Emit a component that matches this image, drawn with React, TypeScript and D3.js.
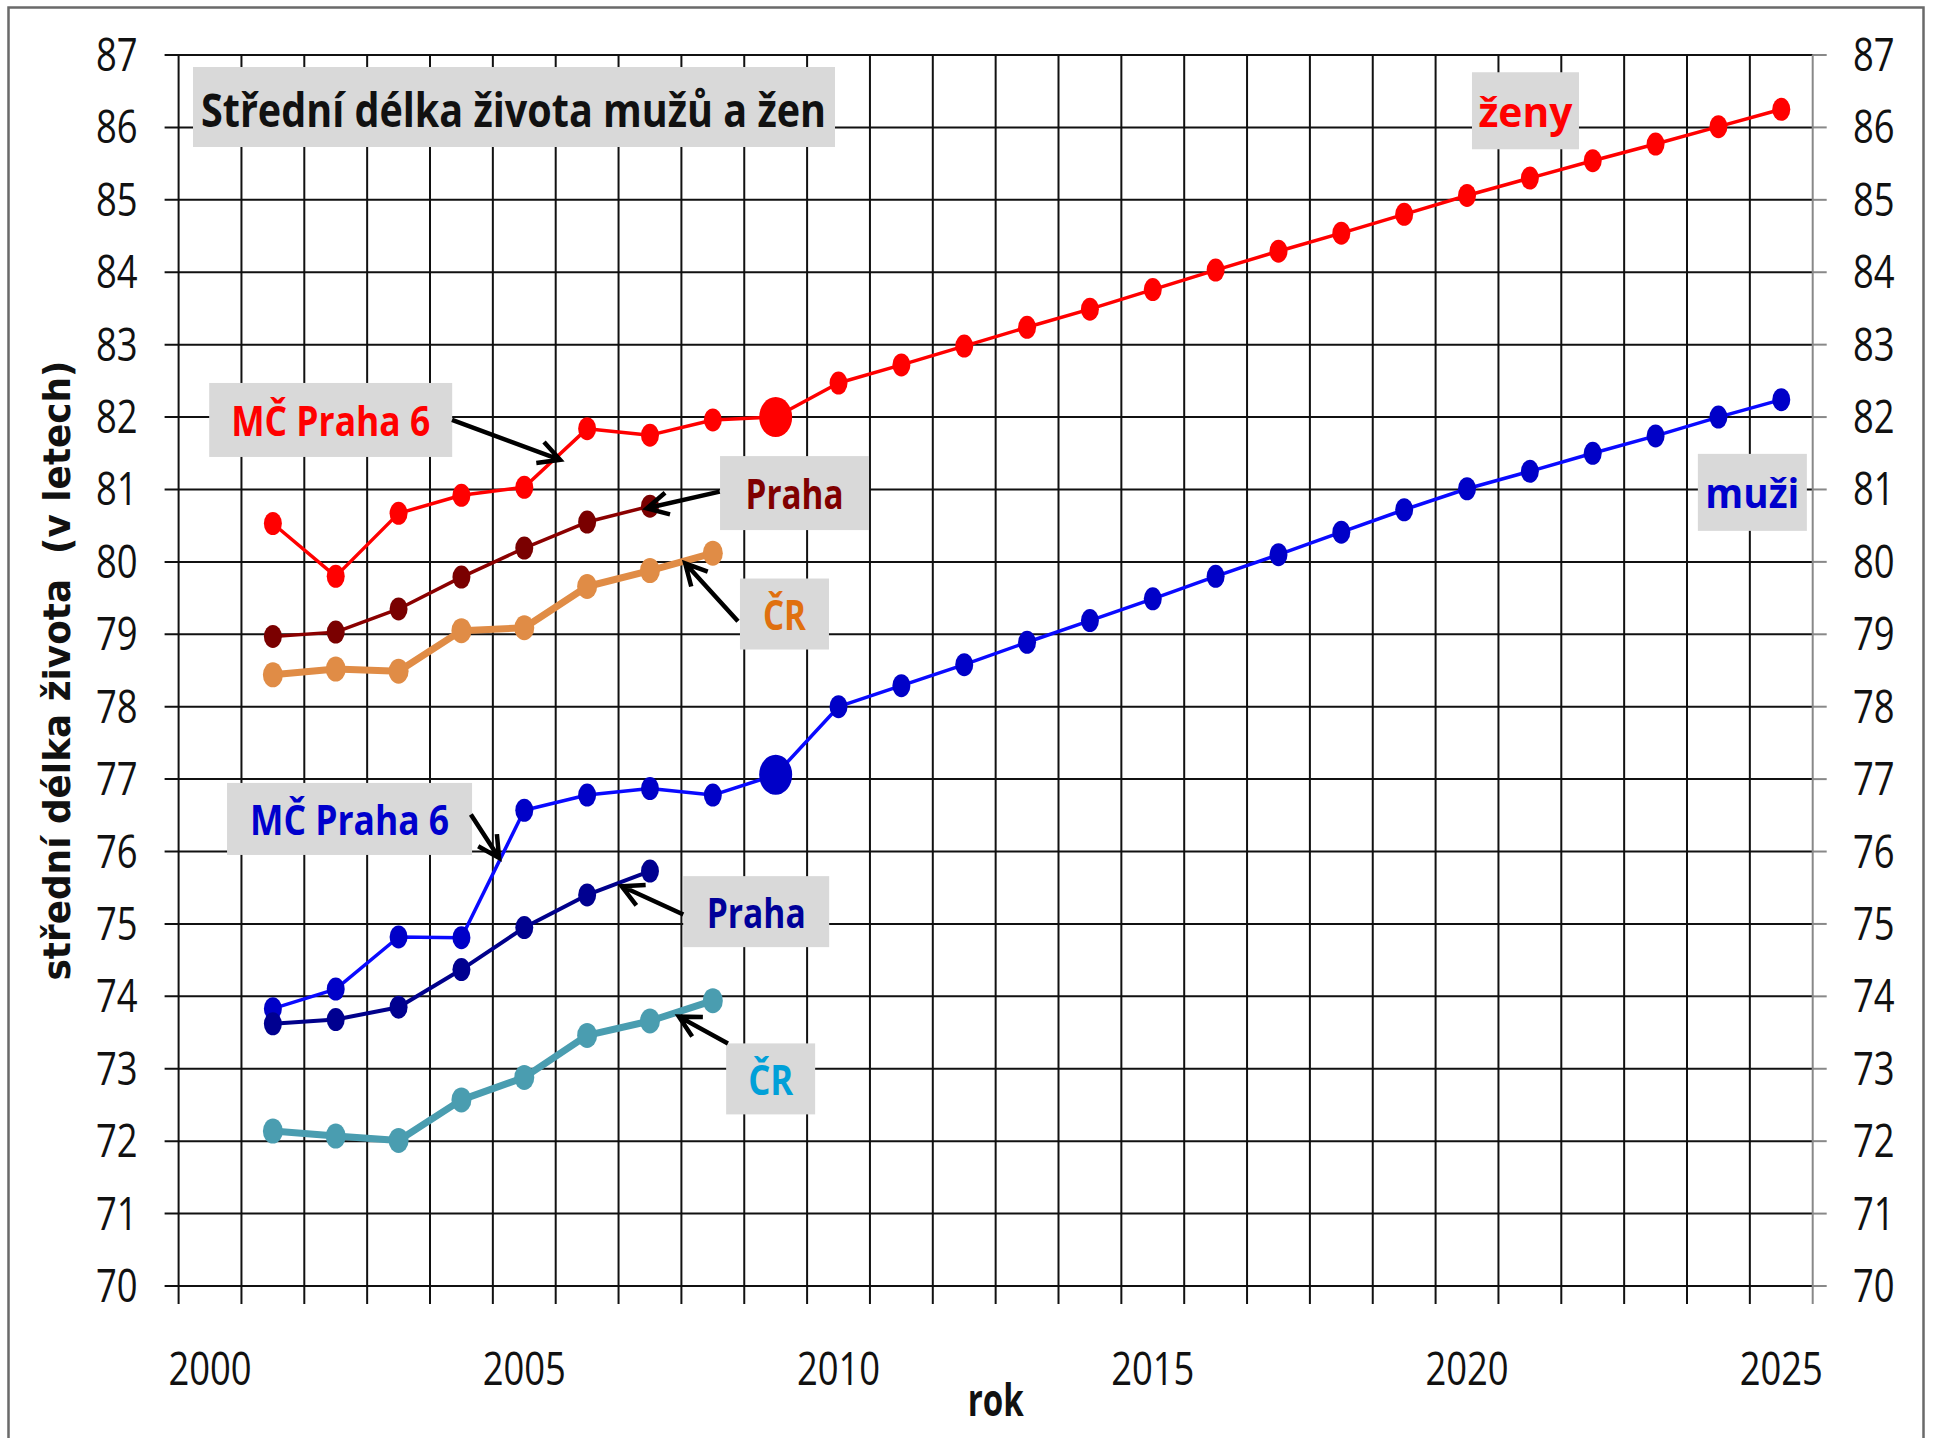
import React from "react";
import * as d3 from "d3";

// categories on the x axis (one cell per year)
const years = [
  2000, 2001, 2002, 2003, 2004, 2005, 2006, 2007, 2008, 2009, 2010, 2011, 2012,
  2013, 2014, 2015, 2016, 2017, 2018, 2019, 2020, 2021, 2022, 2023, 2024, 2025,
];
const yearLabels = [2000, 2005, 2010, 2015, 2020, 2025];

// ženy – MČ Praha 6 (2001–2025)
const womenP6 = [
  80.53, 79.8, 80.67, 80.92, 81.03, 81.84, 81.75, 81.96, 82.0, 82.47, 82.72,
  82.98, 83.24, 83.49, 83.76, 84.03, 84.29, 84.54, 84.8, 85.06, 85.3, 85.54,
  85.77, 86.01, 86.25,
];
// ženy – Praha (2001–2007)
const womenPraha = [78.97, 79.03, 79.35, 79.79, 80.19, 80.55, 80.77];
// ženy – ČR (2001–2008)
const womenCR = [78.44, 78.52, 78.49, 79.05, 79.09, 79.66, 79.88, 80.12];
// muži – MČ Praha 6 (2001–2025)
const menP6 = [
  73.83, 74.1, 74.82, 74.81, 76.57, 76.78, 76.87, 76.78, 77.06, 78.0, 78.29,
  78.58, 78.89, 79.19, 79.49, 79.8, 80.1, 80.41, 80.72, 81.01, 81.25, 81.5,
  81.74, 82.0, 82.24,
];
// muži – Praha (2001–2007)
const menPraha = [73.62, 73.68, 73.85, 74.37, 74.95, 75.4, 75.73];
// muži – ČR (2001–2008)
const menCR = [72.14, 72.07, 72.01, 72.57, 72.88, 73.46, 73.66, 73.94];

const firstYear = 2001;
const highlightYear = 2009;

const W = 1933;
const H = 1438;
const X0 = 178.6;
const X1 = 1812.7;
const Y0 = 55;
const Y1 = 1286;

const NARROW = "'Liberation Sans Narrow', 'Arial Narrow', 'Open Sans', sans-serif";
const WIDE = "'DejaVu Sans', Verdana, sans-serif";
const DIGIT_W = 20.8; // width of one tick-label digit, px

const series = [
  { values: womenP6, line: "#ff0000", marker: "#ff0000", width: 3.5, rx: 9, ry: 11.5, big: true },
  { values: womenPraha, line: "#8b0000", marker: "#7a0000", width: 3.5, rx: 9, ry: 11.5, big: false },
  { values: womenCR, line: "#e08c46", marker: "#e08c46", width: 7, rx: 10, ry: 12.5, big: false },
  { values: menP6, line: "#0a0aff", marker: "#0000c8", width: 3.5, rx: 9, ry: 11.5, big: true },
  { values: menPraha, line: "#00008b", marker: "#000090", width: 4, rx: 9, ry: 11.5, big: false },
  { values: menCR, line: "#4a9db0", marker: "#4a9db0", width: 7, rx: 10, ry: 12.5, big: false },
];

// text boxes (centre in data units, size in px) with arrows [tail, tip] in data units
const annotations = [
  { text: "MČ Praha 6", color: "#ff0000", cx: 2001.92, cy: 81.96, w: 243, h: 74, tw: 199, arrow: [[2003.85, 81.96], [2005.57, 81.41]] },
  { text: "Praha", color: "#800000", cx: 2009.3, cy: 80.95, w: 149, h: 74, tw: 98, arrow: [[2008.11, 80.97], [2006.95, 80.74]] },
  { text: "ČR", color: "#e0700f", cx: 2009.14, cy: 79.28, w: 89, h: 71, tw: 43, arrow: [[2008.4, 79.18], [2007.56, 79.98]] },
  { text: "MČ Praha 6", color: "#0000cc", cx: 2002.22, cy: 76.45, w: 245, h: 72, tw: 199, arrow: [[2004.15, 76.51], [2004.6, 75.91]] },
  { text: "Praha", color: "#000099", cx: 2008.69, cy: 75.17, w: 146, h: 71, tw: 99, arrow: [[2007.53, 75.13], [2006.55, 75.52]] },
  { text: "ČR", color: "#00a0d8", cx: 2008.92, cy: 72.86, w: 89, h: 71, tw: 45, arrow: [[2008.24, 73.35], [2007.46, 73.72]] },
  { text: "ženy", color: "#ff0000", cx: 2020.93, cy: 86.23, w: 107, h: 77, tw: 94, arrow: null },
  { text: "muži", color: "#0000cc", cx: 2024.54, cy: 80.96, w: 109, h: 77, tw: 94, arrow: null },
];

function arrowPath(tail: number[], tip: number[]) {
  const dx = tip[0] - tail[0];
  const dy = tip[1] - tail[1];
  const a = Math.atan2(dy, dx);
  const len = 24;
  const spread = Math.PI / 6.5;
  const h1 = [tip[0] - len * Math.cos(a - spread), tip[1] - len * Math.sin(a - spread)];
  const h2 = [tip[0] - len * Math.cos(a + spread), tip[1] - len * Math.sin(a + spread)];
  return `M${tail[0]},${tail[1]}L${tip[0]},${tip[1]}M${h1[0]},${h1[1]}L${tip[0]},${tip[1]}L${h2[0]},${h2[1]}`;
}

export default function App() {
  const x = d3.scaleBand<number>().domain(years).range([X0, X1]).padding(0);
  const bw = x.bandwidth();
  const xc = (yr: number) => (x(yr) as number) + bw / 2;
  const xLin = d3.scaleLinear().domain([1999.5, 2025.5]).range([X0, X1]);
  const y = d3.scaleLinear().domain([70, 87]).range([Y1, Y0]);
  const yTicks = y.ticks(17);

  const line = d3
    .line<number>()
    .x((_, i) => xc(firstYear + i))
    .y((v) => y(v));

  const edges = years.map((yr) => x(yr) as number).concat([X1]);

  return (
    <svg
      width={W}
      height={H}
      style={{ position: "absolute", left: 0, top: 0, background: "#fff" }}
    >
      <rect x={0} y={0} width={W} height={H} fill="#fff" />
      <rect x={8.5} y={7.5} width={1915} height={1445} fill="none" stroke="#6a6a6a" strokeWidth={2.5} />

      {/* horizontal gridlines */}
      {yTicks.map((t) => (
        <g key={"h" + t}>
          <line x1={X0 - 14} x2={X1} y1={y(t)} y2={y(t)} stroke="#111" strokeWidth={2} />
          <line x1={X1} x2={X1 + 14} y1={y(t)} y2={y(t)} stroke="#888" strokeWidth={2} />
        </g>
      ))}
      {/* vertical gridlines / category ticks */}
      {edges.map((ex, i) => (
        <line
          key={"v" + i}
          x1={ex}
          x2={ex}
          y1={Y0}
          y2={Y1 + 18}
          stroke={i === edges.length - 1 ? "#888" : "#111"}
          strokeWidth={2}
        />
      ))}

      {/* y tick labels left and right */}
      {yTicks.map((t) => (
        <g key={"l" + t} fontFamily={NARROW} fontSize={45} fill="#111">
          <text x={137.5} y={y(t) + 16} textAnchor="end" textLength={String(t).length * DIGIT_W} lengthAdjust="spacingAndGlyphs">{t}</text>
          <text x={1853} y={y(t) + 16} textAnchor="start" textLength={String(t).length * DIGIT_W} lengthAdjust="spacingAndGlyphs">{t}</text>
        </g>
      ))}
      {/* x labels */}
      {yearLabels.map((yr) => (
        <text
          key={"x" + yr}
          x={xc(yr)}
          y={1385}
          textAnchor="middle"
          fontFamily={NARROW}
          fontSize={45}
          fill="#111"
          textLength={String(yr).length * DIGIT_W}
          lengthAdjust="spacingAndGlyphs"
        >
          {yr}
        </text>
      ))}
      <text
        x={(X0 + X1) / 2}
        y={1416}
        textAnchor="middle"
        fontFamily={NARROW}
        fontWeight="bold"
        fontSize={44}
        fill="#111"
        textLength={56}
        lengthAdjust="spacingAndGlyphs"
      >
        rok
      </text>
      <text
        transform={`translate(70, ${(Y0 + Y1) / 2}) rotate(-90)`}
        textAnchor="middle"
        fontFamily={WIDE}
        fontWeight="bold"
        fontSize={38}
        fill="#111"
        textLength={620}
        lengthAdjust="spacingAndGlyphs"
        style={{ whiteSpace: "pre" }}
      >
        {"střední délka života  (v letech)"}
      </text>

      {/* title */}
      <rect x={193} y={67} width={642} height={80} fill="#d9d9d9" />
      <text x={201} y={127} fontFamily={NARROW} fontWeight="bold" fontSize={47} fill="#111" textLength={625} lengthAdjust="spacingAndGlyphs">
        Střední délka života mužů a žen
      </text>

      {/* series */}
      {series.map((s, si) => (
        <g key={"s" + si}>
          <path d={line(s.values) || ""} fill="none" stroke={s.line} strokeWidth={s.width} strokeLinejoin="round" />
          {s.values.map((v, i) => {
            const yr = firstYear + i;
            const big = s.big && yr === highlightYear;
            return (
              <ellipse
                key={i}
                cx={xc(yr)}
                cy={y(v)}
                rx={big ? 16.5 : s.rx}
                ry={big ? 20 : s.ry}
                fill={s.marker}
              />
            );
          })}
        </g>
      ))}

      {/* annotations */}
      {annotations.map((a, i) => {
        const cx = xLin(a.cx);
        const cy = y(a.cy);
        return (
          <g key={"a" + i}>
            <rect x={cx - a.w / 2} y={cy - a.h / 2} width={a.w} height={a.h} fill="#d9d9d9" />
            <text
              x={cx}
              y={cy + 16}
              textAnchor="middle"
              fontFamily={NARROW}
              fontWeight="bold"
              fontSize={42}
              fill={a.color}
              textLength={a.tw}
              lengthAdjust="spacingAndGlyphs"
            >
              {a.text}
            </text>
            {a.arrow && (
              <path
                d={arrowPath(
                  [xLin(a.arrow[0][0]), y(a.arrow[0][1])],
                  [xLin(a.arrow[1][0]), y(a.arrow[1][1])]
                )}
                fill="none"
                stroke="#000"
                strokeWidth={4.5}
              />
            )}
          </g>
        );
      })}
    </svg>
  );
}
